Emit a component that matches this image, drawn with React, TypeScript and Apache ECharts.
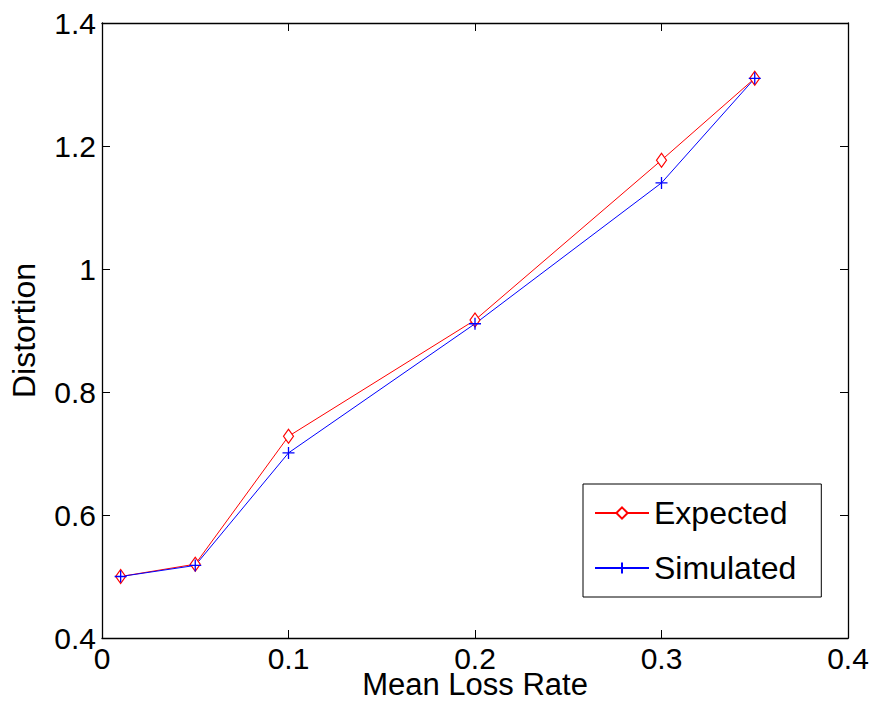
import React, { useEffect, useRef } from "react";
import * as echarts from "echarts";

const lossRates = [0.01, 0.05, 0.1, 0.2, 0.3, 0.35];
const expected = [0.5, 0.52, 0.728, 0.917, 1.177, 1.31];
const simulated = [0.5, 0.518, 0.701, 0.911, 1.14, 1.31];
const seriesNames = ["Expected", "Simulated"];
const xTitle = "Mean Loss Rate";
const yTitle = "Distortion";

const FONT = "Liberation Sans, Arial, Helvetica, sans-serif";
const FS = 30;

export default function App() {
  const ref = useRef<HTMLDivElement>(null);
  useEffect(() => {
    if (!ref.current) return;
    const chart = echarts.init(ref.current, undefined, { renderer: "svg" });
    const tick = { show: true, inside: true, length: 8, lineStyle: { color: "#000", width: 1 } };
    const line = { show: true, onZero: false, lineStyle: { color: "#000", width: 1.3 } };
    const label = { color: "#000", fontSize: FS, fontFamily: FONT };
    chart.setOption({
      animation: false,
      backgroundColor: "#fff",
      grid: { left: 102, right: 25, top: 23, bottom: 72, containLabel: false, outerBoundsMode: "none" },
      xAxis: [
        {
          type: "value", min: 0, max: 0.4, interval: 0.1, position: "bottom",
          axisLine: line, axisTick: tick, splitLine: { show: false },
          axisLabel: { ...label, margin: 7, lineHeight: 26, formatter: (v: number) => String(+v.toFixed(2)) },
          name: xTitle, nameLocation: "middle", nameGap: 33, nameMoveOverlap: false,
          nameTextStyle: { color: "#000", fontSize: 31, fontFamily: FONT, lineHeight: 26 },
        },
        {
          type: "value", min: 0, max: 0.4, interval: 0.1, position: "top",
          axisLine: line, axisTick: tick, splitLine: { show: false }, axisLabel: { show: false },
        },
      ],
      yAxis: [
        {
          type: "value", min: 0.4, max: 1.4, interval: 0.2, position: "left",
          axisLine: line, axisTick: tick, splitLine: { show: false },
          axisLabel: { ...label, margin: 6, formatter: (v: number) => String(+v.toFixed(2)) },
          name: yTitle, nameLocation: "middle", nameGap: 62, nameMoveOverlap: false,
          nameTextStyle: { color: "#000", fontSize: 32, fontFamily: FONT },
        },
        {
          type: "value", min: 0.4, max: 1.4, interval: 0.2, position: "right",
          axisLine: line, axisTick: tick, splitLine: { show: false }, axisLabel: { show: false },
        },
      ],
      legend: {
        orient: "vertical",
        left: 583,
        top: 484,
        padding: [12, 25, 12, 11],
        itemWidth: 54,
        itemHeight: 14,
        itemGap: 21,
        backgroundColor: "#fff",
        borderColor: "#000",
        borderWidth: 1,
        textStyle: { color: "#000", fontSize: 32, fontFamily: FONT, lineHeight: 34 },
        data: seriesNames,
      },
      series: [
        {
          name: seriesNames[0],
          type: "line",
          data: lossRates.map((x, i) => [x, expected[i]]),
          symbol: "diamond",
          symbolSize: [10, 14],
          showAllSymbol: true,
          lineStyle: { color: "#ff0000", width: 1 },
          itemStyle: { color: "#ffffff", borderColor: "#ff0000", borderWidth: 1.2 },
        },
        {
          name: seriesNames[1],
          type: "line",
          data: lossRates.map((x, i) => [x, simulated[i]]),
          symbol: "path://M0,6L12,6M6,0L6,12",
          symbolSize: 12,
          showAllSymbol: true,
          lineStyle: { color: "#0000ff", width: 1 },
          itemStyle: { color: "none", borderColor: "#0000ff", borderWidth: 1.3 },
        },
      ],
    });
    return () => chart.dispose();
  }, []);
  return (
    <div
      ref={ref}
      style={{ position: "fixed", left: 0, top: 0, width: 873, height: 710, background: "#fff" }}
    />
  );
}
